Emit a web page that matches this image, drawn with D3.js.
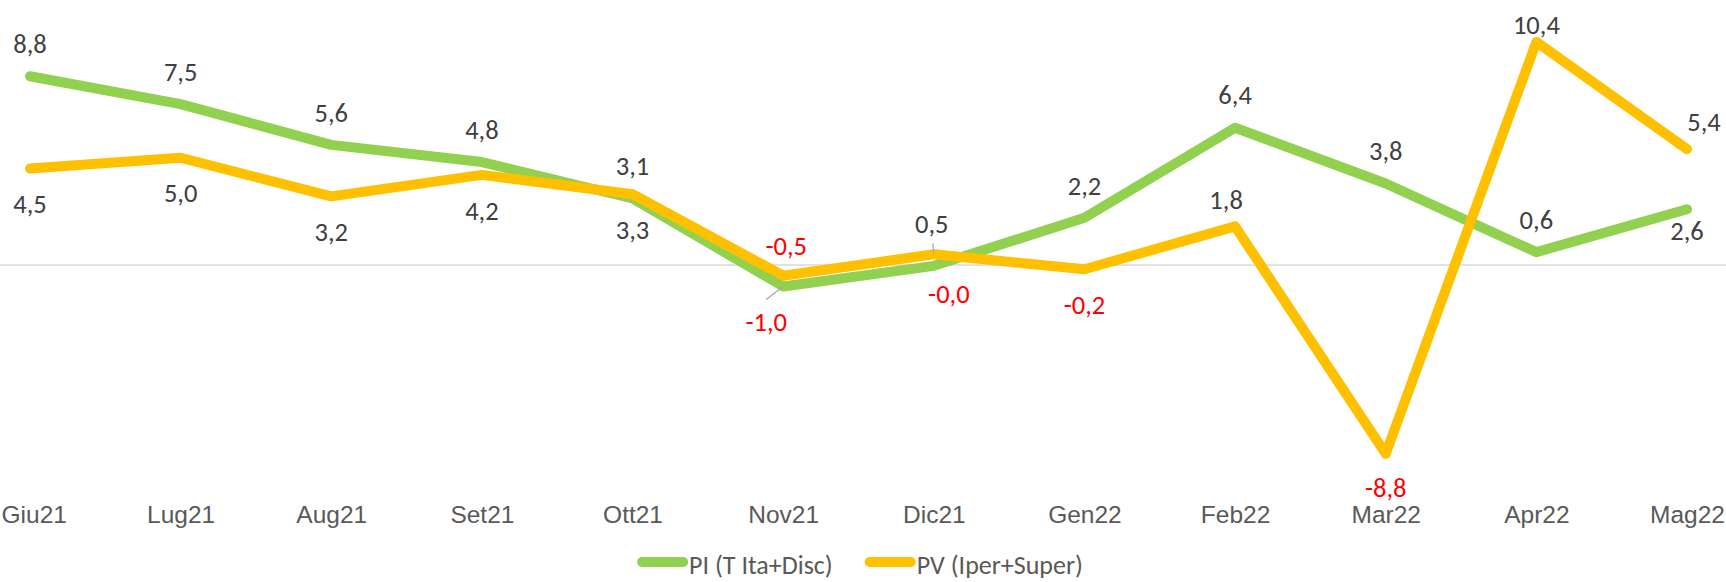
<!DOCTYPE html>
<html lang="it">
    <head>
        <meta charset="utf-8">
        <title>PI vs PV</title>
        <script type="text/javascript" src="https://cdn.jsdelivr.net/npm/d3@7/dist/d3.min.js"></script>
        <style>
            body { margin: 0; background: #fff; }
            svg { display: block; font-family: Calibri, Carlito, "Open Sans", sans-serif; }
        </style>
    </head>
    <body>
		<svg width="1726" height="582"></svg>

        <script type="text/javascript">
		/// dati
		var mesi = ["Giu21", "Lug21", "Aug21", "Set21", "Ott21", "Nov21", "Dic21", "Gen22", "Feb22", "Mar22", "Apr22", "Mag22"];
		var valoriPI = [8.8, 7.5, 5.6, 4.8, 3.1, -1.0, -0.04, 2.2, 6.4, 3.8, 0.6, 2.6];
		var valoriPV = [4.5, 5.0, 3.2, 4.2, 3.3, -0.5, 0.5, -0.2, 1.8, -8.8, 10.4, 5.4];
		var nomiSerie = ["PI (T Ita+Disc)", "PV (Iper+Super)"];
		var coloriSerie = ["#92D050", "#FFC000"];

		// posizione etichette: sopra / sotto il punto
		var etichettePI = ["a", "a", "a", "a", "a", "b", "b", "a", "a", "a", "a", "b"];
		var etichettePV = ["b", "b", "b", "b", "b", "a", "a", "b", "a", "b", "a", "a"];
		// spostamenti manuali di alcune etichette [dx, dy]
		var spostamenti = {
			"0-5": [-17, 0], "0-6": [15, -8], "0-11": [0, -14],
			"1-5": [3, 3], "1-6": [-2, 2], "1-8": [-9, 6], "1-9": [0, -2], "1-10": [0, 15], "1-11": [17, 5]
		};
		// linee guida delle etichette spostate
		var guide = {"0-5": [-17, 13], "1-6": [-1, -11]};

		var svg = d3.select("svg");

		var echelleX = d3.scalePoint()
						.domain(mesi)
						.range([30, 1687]);

		var echelleY = d3.scaleLinear()
						.domain([-10, 12])
						.range([479.5, 7.6]);

		// linea dello zero
		svg.append("line")
			.attr("x1", 0)
			.attr("x2", 1726)
			.attr("y1", echelleY(0))
			.attr("y2", echelleY(0))
			.attr("stroke", "#d9d9d9")
			.attr("stroke-width", 1.5);

		// asse X
		var asse = svg.append("g")
			.attr("transform", "translate(0,523)")
			.call(d3.axisBottom(echelleX).tickSize(0).tickPadding(0));
		asse.select(".domain").remove();
		asse.selectAll("text")
			.attr("y", 0)
			.attr("dy", null)
			.attr("fill", "#595959")
			.style("font-size", "24.5px")
			.style("font-family", null);
		// la prima etichetta resta dentro il bordo
		asse.selectAll("text").filter(function (d, i) { return i == 0 })
			.attr("text-anchor", "start")
			.attr("x", -echelleX(mesi[0]) + 1);

		var series = [valoriPI, valoriPV];
		var posizioni = [etichettePI, etichettePV];

		var maLigne = d3.line()
				.x(function (d, i) { return echelleX(mesi[i]) })
				.y(function (d) { return echelleY(d) });

		svg.selectAll("path.serie")
			.data(series)
			.enter()
				.append("path")
				.attr("class", "serie")
				.attr("d", function (d) { return maLigne(d) })
				.attr("fill", "none")
				.attr("stroke", function (d, i) { return coloriSerie[i] })
				.attr("stroke-width", 10)
				.attr("stroke-linecap", "round")
				.attr("stroke-linejoin", "round");

		function formato(v) {
			var s = d3.format(".1f")(Math.abs(v)).replace(".", ",");
			return (v < 0 ? "-" : "") + s;
		}

		// etichette dei valori
		series.forEach(function (valori, s) {
			valori.forEach(function (v, i) {
				var px = echelleX(mesi[i]);
				var py = echelleY(v);
				var chiave = s + "-" + i;
				var sp = spostamenti[chiave] || [0, 0];
				var dy = posizioni[s][i] == "a" ? -32 : 36;

				if (guide[chiave]) {
					svg.append("line")
						.attr("x1", px)
						.attr("y1", py)
						.attr("x2", px + guide[chiave][0])
						.attr("y2", py + guide[chiave][1])
						.attr("stroke", "#a6a6a6")
						.attr("stroke-width", 1.2);
				}

				svg.append("text")
					.attr("x", px + sp[0])
					.attr("y", py + dy + sp[1])
					.attr("dy", "0.33em")
					.attr("text-anchor", "middle")
					.attr("fill", v < 0 ? "#FF0000" : "#404040")
					.style("font-size", "26.5px")
					.text(formato(v));
			});
		});

		// legenda
		var legenda = svg.append("g");
		var xCourant = 0;
		nomiSerie.forEach(function (nom, i) {
			legenda.append("line")
				.attr("x1", xCourant + 5)
				.attr("x2", xCourant + 46)
				.attr("y1", 562)
				.attr("y2", 562)
				.attr("stroke", coloriSerie[i])
				.attr("stroke-width", 10)
				.attr("stroke-linecap", "round");
			var t = legenda.append("text")
				.attr("x", xCourant + 52)
				.attr("y", 574)
				.attr("fill", "#595959")
				.style("font-size", "26px")
				.text(nom);
			xCourant += 52 + t.node().getComputedTextLength() + 32;
		});
		var largeur = xCourant - 32;
		legenda.attr("transform", "translate(" + (860 - largeur / 2) + ",0)");
        </script>
    </body>
</html>
